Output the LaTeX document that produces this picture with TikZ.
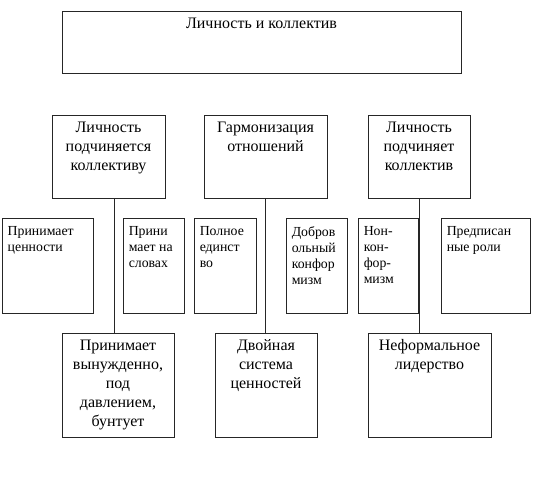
\documentclass[tikz,border=0pt]{standalone}
\usepackage{fontspec}
\setmainfont{Liberation Serif}
\usetikzlibrary{positioning}

\begin{document}
\begin{tikzpicture}[x=1pt,y=-1pt,
  box/.style={draw=black!85, line width=0.9pt, inner sep=0pt},
  bigtxt/.style={font=\fontsize{16}{19}\selectfont, align=center, anchor=north, inner sep=0pt},
  smalltxt/.style={font=\fontsize{13.8}{16}\selectfont, align=left, anchor=north west, inner sep=0pt}]

% Поля рисунка
\useasboundingbox (0,0) rectangle (533,480);

% Заголовок
\node[box, minimum width=399pt, minimum height=62pt] (top) at (261.5,42) {};
\node[bigtxt, below=7pt of top.north] (toptxt) {Личность и коллектив};

% Второй ряд
\node[box, minimum width=113pt, minimum height=83pt] (sub) at (108.5,156.5) {};
\node[box, minimum width=123pt, minimum height=83pt] (harm) at (265.5,156.5) {};
\node[box, minimum width=102pt, minimum height=83pt] (dom) at (419,156.5) {};
\node[bigtxt, below=7pt of sub.north] (subtxt) {Личность\\подчиняется\\коллективу};
\node[bigtxt, below=7pt of harm.north] (harmtxt) {Гармонизация\\отношений};
\node[bigtxt, below=7pt of dom.north] (domtxt) {Личность\\подчиняет\\коллектив};

% Узкие блоки
\node[box, minimum width=91pt, minimum height=95pt] (acc) at (47.5,265.5) {};
\node[box, minimum width=61pt, minimum height=95pt] (word) at (153.5,265.5) {};
\node[box, minimum width=62pt, minimum height=95pt] (unity) at (225,265.5) {};
\node[box, minimum width=61pt, minimum height=95pt] (conf) at (316.5,265.5) {};
\node[box, minimum width=60pt, minimum height=95pt] (nonconf) at (388,265.5) {};
\node[box, minimum width=89pt, minimum height=95pt] (roles) at (485.5,265.5) {};
\node[smalltxt, below right=9pt and 6pt of acc.north west] (acctxt) {Принимает\\ценности};
\node[smalltxt, below right=9pt and 6pt of word.north west] (wordtxt) {Прини\\мает на\\словах};
\node[smalltxt, below right=9pt and 6pt of unity.north west] (unitytxt) {Полное\\единст\\во};
\node[smalltxt, below right=9pt and 6pt of conf.north west] (conftxt) {Добров\\ольный\\конфор\\мизм};
\node[smalltxt, below right=9pt and 6pt of nonconf.north west] (nonconftxt) {Нон-\\кон-\\фор-\\мизм};
\node[smalltxt, below right=9pt and 6pt of roles.north west] (rolestxt) {Предписан\\ные роли};

% Нижний ряд
\node[box, minimum width=112pt, minimum height=104pt] (forced) at (118,385) {};
\node[box, minimum width=102pt, minimum height=104pt] (dual) at (266,385) {};
\node[box, minimum width=123pt, minimum height=104pt] (lead) at (429.5,385) {};
\node[bigtxt, below=7pt of forced.north] (forcedtxt) {Принимает\\вынужденно,\\под\\давлением,\\бунтует};
\node[bigtxt, below=7pt of dual.north] (dualtxt) {Двойная\\система\\ценностей};
\node[bigtxt, below=7pt of lead.north] (leadtxt) {Неформальное\\лидерство};

% Линии
\draw[black!85, line width=0.9pt] ([xshift=5.5pt]sub.south) -- ([xshift=5.5pt]sub.south |- forced.north);
\draw[black!85, line width=0.9pt] (harm.south) -- (harm.south |- dual.north);
\draw[black!85, line width=0.9pt] (dom.south) -- (dom.south |- lead.north);

\end{tikzpicture}
\end{document}
